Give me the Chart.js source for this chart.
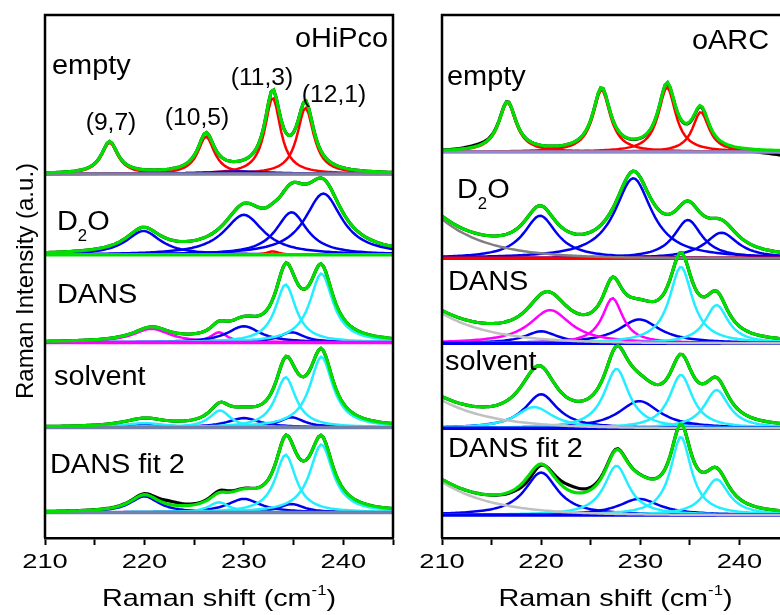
<!DOCTYPE html>
<html>
<head>
<meta charset="utf-8">
<script src="https://cdn.jsdelivr.net/npm/chart.js@4"></script>
<style>
  html, body { margin: 0; padding: 0; background: #fff; width: 780px; height: 615px; overflow: hidden; }
  canvas { position: absolute; top: 0; }
  #left { left: 0; }
  #right { left: 400px; }
</style>
</head>
<body>
<canvas id="left" width="400" height="615"></canvas>
<canvas id="right" width="400" height="615"></canvas>
<script>
// x range and tick labels (cm-1)
const shiftMin = 210;
const shiftMax = 245;
const tickValues = [210, 220, 230, 240];
const sampleNames = ["empty", "D2O", "DANS", "solvent", "DANS fit 2"];

// fitted peaks: [centre (cm-1), FWHM (cm-1), height (a.u.), component]
const hipcoEmpty = [
  [216.5, 2.0, 0.37, "empty"],
  [226.2, 2.0, 0.44, "empty"],
  [232.9, 1.9, 0.90, "empty"],
  [236.2, 2.0, 0.78, "empty"],
  [229.5, 8.0, 0.03, "water"]
];
const hipcoD2O = [
  [219.9, 4.2, 0.28, "water"],
  [230.0, 4.8, 0.47, "water"],
  [234.8, 3.8, 0.50, "water"],
  [238.0, 4.5, 0.72, "water"],
  [232.9, 1.5, 0.04, "empty"]
];
const hipcoDANS = [
  [220.7, 4.5, 0.16, "extra"],
  [227.5, 2.0, 0.12, "extra"],
  [230.0, 4.0, 0.19, "water"],
  [234.8, 3.0, 0.12, "water"],
  [234.2, 2.5, 0.68, "dans"],
  [237.8, 2.8, 0.81, "dans"]
];
const hipcoSolvent = [
  [220.0, 5.0, 0.04, "water"],
  [230.0, 4.0, 0.11, "water"],
  [234.8, 3.0, 0.12, "water"],
  [220.0, 5.0, 0.05, "dans"],
  [227.6, 2.5, 0.20, "dans"],
  [234.2, 2.5, 0.59, "dans"],
  [237.8, 2.8, 0.83, "dans"]
];
const hipcoFit2 = [
  [220.0, 3.5, 0.19, "water"],
  [230.0, 4.0, 0.16, "water"],
  [234.8, 3.0, 0.10, "water"],
  [227.5, 2.5, 0.12, "dans"],
  [234.2, 2.5, 0.68, "dans"],
  [237.8, 2.8, 0.80, "dans"]
];
// measured minus fit: [centre, width, height]
const hipcoFit2Residual = [[222.5, 3.0, 0.04], [227.8, 2.0, 0.02]];

const arcEmpty = [
  [216.6, 2.1, 0.58, "empty"],
  [226.1, 2.1, 0.73, "empty"],
  [232.7, 2.1, 0.76, "empty"],
  [236.1, 2.0, 0.47, "empty"]
];
const arcEmptyResidual = [[247.0, 8.0, -0.08], [213.5, 3.0, 0.02]];
const arcD2O = [
  [219.9, 4.0, 0.50, "water"],
  [229.3, 4.5, 0.94, "water"],
  [234.8, 3.4, 0.45, "water"],
  [238.2, 4.0, 0.30, "water"]
];
const arcDANS = [
  [220.0, 4.0, 0.14, "water"],
  [229.9, 5.0, 0.28, "water"],
  [220.9, 5.0, 0.39, "extra"],
  [227.2, 2.5, 0.53, "extra"],
  [234.1, 2.8, 0.90, "dans"],
  [237.7, 2.8, 0.45, "dans"]
];
const arcSolvent = [
  [220.0, 4.0, 0.40, "water"],
  [229.9, 5.0, 0.32, "water"],
  [234.8, 3.0, 0.05, "water"],
  [219.3, 4.5, 0.25, "dans"],
  [227.6, 3.0, 0.70, "dans"],
  [234.1, 2.8, 0.63, "dans"],
  [237.7, 3.0, 0.45, "dans"]
];
const arcFit2 = [
  [220.0, 4.0, 0.50, "water"],
  [229.9, 5.0, 0.19, "water"],
  [227.6, 3.0, 0.58, "dans"],
  [234.1, 2.5, 0.92, "dans"],
  [237.7, 3.0, 0.42, "dans"]
];
const arcFit2Residual = [[218.8, 2.5, -0.06], [223.0, 3.5, 0.07]];

// decaying background: [value at 210, decay length (cm-1)]
const arcD2OBackground = [0.46, 4.8];
const arcDANSBackground = [0.35, 5.2];
const arcSolventBackground = [0.33, 5.2];
const arcFit2Background = [0.39, 5.2];

// styles
const componentColors = { empty: "#ff0000", water: "#0000f0", dans: "#22eeff", extra: "#ff00ff" };
const fitColor = "#00e000";
const FONT = '"Liberation Sans", Arial, sans-serif';

const xs = [];
for (let x = shiftMin; x <= shiftMax + 1e-9; x += 0.25) xs.push(+x.toFixed(2));

function lorentz(x, p) {
  const d = (x - p[0]) / (p[1] / 2);
  return p[2] / (1 + d * d);
}
function background(x, b) {
  return b ? b[0] * Math.exp(-(x - shiftMin) / b[1]) : 0;
}

const panels = [
  {
    canvas: "left", pageLeft: 0, padLeft: 45, padRight: 7,
    samples: [hipcoEmpty, hipcoD2O, hipcoDANS, hipcoSolvent, hipcoFit2],
    backgrounds: [null, null, null, null, null],
    residuals: [null, null, null, null, hipcoFit2Residual],
    offsets: [3.98, 3.03, 2.0, 1.0, 0],
    baseColors: ["#80809c", "#00e000", "#ff00ff", "#7080a8", "#7080a8"],
    bgColors: [null, null, null, null, null],
    labels: [
      [[["oHiPco"]], 295, 47, 27, "left"],
      [[["empty"]], 52, 74, 27, "left"],
      [[["(9,7)"]], 111, 130, 23, "center"],
      [[["(10,5)"]], 197, 125, 23, "center"],
      [[["(11,3)"]], 262, 85, 23, "center"],
      [[["(12,1)"]], 334, 102, 23, "center"],
      [[["D"], ["2", "sub"], ["O"]], 57, 230, 27, "left"],
      [[["DANS"]], 57, 303, 27, "left"],
      [[["solvent"]], 54, 385, 27, "left"],
      [[["DANS fit 2"]], 50, 473, 27, "left"]
    ],
    yTitle: true
  },
  {
    canvas: "right", pageLeft: 400, padLeft: 42, padRight: 11,
    samples: [arcEmpty, arcD2O, arcDANS, arcSolvent, arcFit2],
    backgrounds: [null, arcD2OBackground, arcDANSBackground, arcSolventBackground, arcFit2Background],
    residuals: [arcEmptyResidual, null, null, null, arcFit2Residual],
    offsets: [4.24, 2.99, 1.99, 0.99, -0.03],
    baseColors: ["#8c8cd0", "#ff0000", "#0000f0", "#0000f0", "#0000f0"],
    bgColors: [null, "#808080", "#c0c0c0", "#c0c0c0", "#c0c0c0"],
    labels: [
      [[["oARC"]], 692, 49, 27, "left"],
      [[["empty"]], 447, 85, 27, "left"],
      [[["D"], ["2", "sub"], ["O"]], 457, 198, 27, "left"],
      [[["DANS"]], 448, 290, 27, "left"],
      [[["solvent"]], 445, 370, 27, "left"],
      [[["DANS fit 2"]], 448, 457, 27, "left"]
    ],
    yTitle: false
  }
];

function line(points, color, width) {
  return {
    data: points, borderColor: color, borderWidth: width,
    pointRadius: 0, tension: 0, fill: false
  };
}

function buildDatasets(panel) {
  const bottom = [], comps = [], bases = [], tops = [];
  panel.samples.forEach((peaks, i) => {
    const off = panel.offsets[i];
    const bg = panel.backgrounds[i];
    const res = panel.residuals[i] || [];
    const fit = xs.map(x => peaks.reduce((s, p) => s + lorentz(x, p), background(x, bg)));
    const measured = xs.map((x, k) => fit[k] + res.reduce((s, p) => s + lorentz(x, p), 0));
    bottom.push(line(xs.map((x, k) => ({ x, y: off + measured[k] })), "#000", 3.2));
    peaks.forEach(p => {
      comps.push(line(xs.map(x => ({ x, y: off + lorentz(x, p) })), componentColors[p[3]], 2.5));
    });
    bases.push(line([{ x: shiftMin, y: off }, { x: shiftMax, y: off }], panel.baseColors[i], 3.5));
    if (bg) bases.push(line(xs.map(x => ({ x, y: off + background(x, bg) })), panel.bgColors[i], 2.5));
    tops.push(line(xs.map((x, k) => ({ x, y: off + fit[k] })), fitColor, 3.2));
  });
  // first dataset is painted last (on top) in Chart.js
  return bottom.concat(comps, bases, tops).reverse();
}

function drawText(ctx, segs, x, y, size, align, stretch) {
  ctx.save();
  const parts = segs.map(s => {
    const kind = s[1] || "";
    const fs = kind ? size * 0.58 : size;
    ctx.font = fs + "px " + FONT;
    return { t: s[0], fs, dy: kind === "sub" ? size * 0.4 : kind === "sup" ? -size * 0.45 : 0, w: ctx.measureText(s[0]).width };
  });
  const total = parts.reduce((s, p) => s + p.w, 0) * stretch;
  let cx = align === "center" ? x - total / 2 : align === "right" ? x - total : x;
  ctx.fillStyle = "#000";
  ctx.textBaseline = "alphabetic";
  ctx.textAlign = "left";
  parts.forEach(p => {
    ctx.save();
    ctx.font = p.fs + "px " + FONT;
    ctx.translate(cx, y + p.dy);
    ctx.scale(stretch, 1);
    ctx.fillText(p.t, 0, 0);
    ctx.restore();
    cx += p.w * stretch;
  });
  ctx.restore();
}

const decorations = {
  id: "decorations",
  afterDraw(chart, args, opts) {
    const panel = opts.panel;
    const { ctx, chartArea: a } = chart;
    const xScale = chart.scales.x;
    // frame (top, left, right)
    ctx.save();
    ctx.strokeStyle = "#000";
    ctx.lineWidth = 2.5;
    ctx.beginPath();
    ctx.moveTo(a.left, a.bottom);
    ctx.lineTo(a.left, a.top);
    ctx.lineTo(a.right, a.top);
    ctx.lineTo(a.right, a.bottom);
    ctx.stroke();
    ctx.restore();
    const dx = -panel.pageLeft;
    panel.labels.forEach(l => drawText(ctx, l[0], l[1] + dx, l[2], l[3], l[4], 1.07));
    tickValues.forEach(v => {
      drawText(ctx, [[String(v)]], xScale.getPixelForValue(v), 568, 21, "center", 1.3);
    });
    const mid = (a.left + a.right) / 2;
    drawText(ctx, [["Raman shift (cm"], ["-1", "sup"], [")"]], mid, 606, 24, "center", 1.2);
    if (panel.yTitle) {
      ctx.save();
      ctx.translate(33, 281);
      ctx.rotate(-Math.PI / 2);
      drawText(ctx, [["Raman Intensity (a.u.)"]], 0, 0, 24, "center", 1.0);
      ctx.restore();
    }
  }
};

panels.forEach(panel => {
  new Chart(document.getElementById(panel.canvas), {
    type: "line",
    data: { datasets: buildDatasets(panel) },
    options: {
      responsive: false,
      animation: false,
      events: [],
      layout: { padding: { left: panel.padLeft, right: panel.padRight, top: 15, bottom: 0 } },
      scales: {
        x: {
          type: "linear", min: shiftMin, max: shiftMax,
          ticks: { stepSize: 5, display: false },
          grid: { drawOnChartArea: false, drawTicks: true, tickLength: 7, tickWidth: 2, tickColor: "#000" },
          border: { display: true, color: "#000", width: 2.5 },
          afterFit: s => { s.height = 77; }
        },
        y: { display: false, min: -0.3, max: 5.85 }
      },
      plugins: {
        legend: { display: false },
        tooltip: { enabled: false },
        decorations: { panel }
      }
    },
    plugins: [decorations]
  });
});
</script>
</body>
</html>
